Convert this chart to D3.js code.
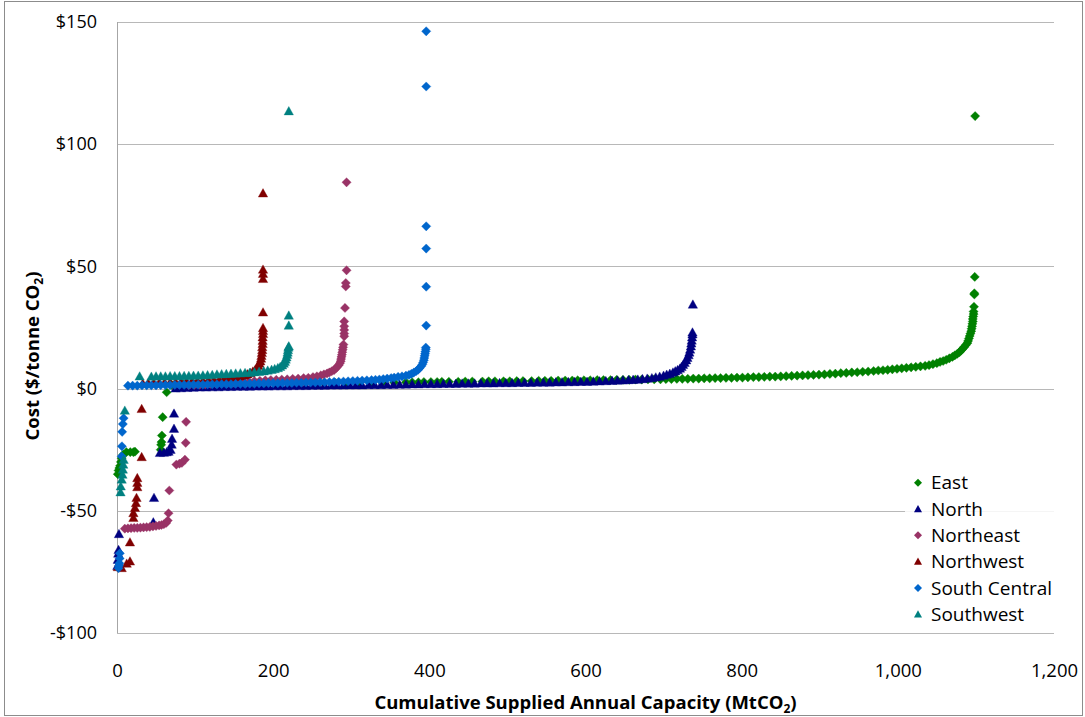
<!DOCTYPE html>
<html>
<head>
<meta charset="utf-8">
<script src="https://cdn.jsdelivr.net/npm/d3@7"></script>
<style>
  html, body { margin: 0; padding: 0; background: #fff; }
  svg { display: block; }
  text { font-family: "Open Sans", "DejaVu Sans", sans-serif; fill: #000; }
</style>
</head>
<body>
<svg id="chart" width="1085" height="717"></svg>
<script>
// Cumulative supplied annual capacity (MtCO2) vs. cost ($/tonne CO2), by region.
// Each point: [cumulative capacity, cost].
const east = [
  [1,-35],[2,-33.5],[3,-32.5],[4,-31.6],[5,-30],[6,-28.5],[8,-27],[12,-26],[17,-26],[21,-26],[23,-25.8],
  [56,-25],[56.5,-23],[57,-21.9],[57.5,-19.2],[58.5,-11.7],[63.6,-1.5],
  [70,1.5],[85,1.6],[100,1.7],[115,1.8],[130,1.8],[145,1.9],[160,1.9],[175,2.0],[190,2.0],[205,2.1],[220,2.1],
  [235,2.2],[250,2.2],[265,2.3],[280,2.3],[295,2.3],[310,2.4],[325,2.4],[340,2.5],[355,2.5],[370,2.6],
  [378,2.6],[386,2.6],[393,2.7],[402,2.7],[410,2.7],[416,2.8],[425,2.8],[437,2.8],[446,2.9],[455,2.9],[468,2.9],
  [476,3.0],[484,3.0],[495,3.0],[503,3.0],[512,3.1],[520,3.1],[531,3.1],[540,3.2],[548,3.2],[556,3.2],[565,3.3],
  [574,3.3],[583,3.3],[590,3.4],[598,3.4],[606,3.4],[615,3.5],[623,3.5],[632,3.5],[640,3.6],[648,3.6],[656,3.6],
  [664,3.7],[672,3.7],[680,3.8],[688,3.8],[696,3.8],[703,3.9],[710,3.9],[717,4.0],[724,4.0],[731,4.0],[738,4.1],
  [745,4.1],[752,4.2],[759,4.2],[766,4.3],[773,4.3],[780,4.4],[787,4.4],[794,4.5],[801,4.5],[808,4.6],[815,4.7],
  [822,4.7],[829,4.8],[836,4.9],[843,4.9],[850,5.0],[857,5.1],[864,5.2],[871,5.3],[878,5.4],[885,5.5],[892,5.6],
  [899,5.7],[906,5.8],[913,6.0],[920,6.1],[927,6.3],[934,6.4],[941,6.6],[948,6.7],[955,6.9],[962,7.0],[969,7.2],
  [975,7.4],[981,7.5],[987,7.7],[993,7.9],[999,8.1],[1005,8.3],[1011,8.5],[1017,8.7],[1023,8.9],[1029,9.1],
  [1035,9.3],[1040,9.6],[1045,10.0],[1050,10.4],[1054,10.9],[1058,11.3],[1062,11.8],[1066,12.4],[1070,13.0],
  [1073,13.6],[1076,14.2],[1079,14.9],[1081,15.6],[1083,16.3],[1085,17.0],[1087,17.8],[1089,18.6],[1090,19.5],
  [1091,20.5],[1092,21.5],[1093,22.5],[1094,23.5],[1094.5,24.5],[1095,25.5],[1095.5,26.5],[1096,27.5],[1096,28.5],
  [1096.5,29.5],[1097,30.5],[1097,31.5],[1097.5,33.5],[1098,38.5],[1098,39],[1098.5,45.7],[1099,111.5]
];
const north = [
  [0.5,-72.5],[1,-70],[1.5,-67.5],[2,-66],[2.5,-59.5],[46.5,-54.7],[47.4,-44.7],[55,-26.3],[60,-26.2],[63.6,-26],
  [66,-25.8],[68.6,-25],[70,-22.9],[70.5,-20.5],[73,-16.4],[73,-10.2],
  [75,0.1],[82,0.2],[90,0.3],[98,0.4],[106,0.5],[114,0.5],[122,0.6],[130,0.6],[138,0.7],[146,0.7],[154,0.8],
  [162,0.8],[170,0.8],[178,0.9],[186,0.9],[194,0.9],[202,1.0],[210,1.0],[218,1.0],[226,1.1],[234,1.1],[242,1.1],
  [250,1.2],[258,1.2],[266,1.2],[274,1.3],[282,1.3],[290,1.3],[298,1.4],[306,1.4],[314,1.4],[322,1.5],[330,1.5],
  [338,1.5],[346,1.6],[354,1.6],[362,1.7],[370,1.7],[378,1.8],[386,1.8],[394,1.9],[402,1.9],[410,1.9],[418,2.0],
  [426,2.0],[434,2.0],[442,2.1],[450,2.1],[458,2.1],[466,2.2],[474,2.2],[482,2.2],[490,2.3],[498,2.3],[506,2.3],
  [514,2.4],[522,2.4],[530,2.4],[538,2.5],[546,2.5],[554,2.5],[562,2.6],[570,2.6],[578,2.7],[586,2.7],[594,2.8],
  [602,2.8],[610,2.9],[618,3.0],[626,3.1],[634,3.2],[641,3.3],[648,3.4],[655,3.5],[661,3.6],[667,3.7],[673,3.9],
  [679,4.1],[685,4.3],[690,4.6],[695,4.9],[700,5.3],[704,5.7],[708,6.1],[712,6.6],[715,7.1],[718,7.6],[721,8.2],
  [723,8.9],[725,9.7],[727,10.6],[729,11.6],[730.5,12.6],[732,13.7],[733,14.8],[734,16.0],[735,17.3],[735.5,18.5],
  [736,19.7],[736.5,21],[737,22.2],[737,23],[737.5,34.4]
];
const northeast = [
  [10,-57.3],[14,-57.2],[18,-57.1],[22,-57],[26,-57],[30,-56.9],[34,-56.8],[38,-56.7],[42,-56.6],[46,-56.4],
  [50,-56.2],[54,-56],[57,-55.8],[60,-55.5],[63,-55],[65,-54],[66,-51],[67,-41.7],[76,-31.1],[80,-30.7],
  [83,-30.4],[87,-29.1],[88,-22.2],[88.5,-13.6],
  [92,1.4],[99,1.5],[106,1.6],[113,1.7],[120,1.9],[127,2.0],[134,2.1],[141,2.3],[148,2.4],[155,2.6],[162,2.8],
  [169,2.9],[176,3.1],[183,3.2],[190,3.4],[197,3.5],[204,3.6],[211,3.7],[218,3.8],[225,4.0],[232,4.1],[239,4.3],
  [245,4.4],[251,4.7],[256,5.0],[261,5.4],[265,5.8],[269,6.2],[272,6.6],[275,7.1],[278,7.6],[280,8.2],[282,8.9],
  [284,9.6],[285.5,10.4],[286.5,11.2],[287,12.1],[287.5,13.0],[288,13.9],[288.5,14.9],[289,15.9],[289.5,16.9],
  [290,18],[291,21.4],[291,22.5],[291,24],[291,25.5],[291,27.5],[292,33],[293,41.8],[293,43.2],[294,48.4],[294,84.4]
];
const northwest = [
  [1,-73],[6,-73.4],[12.4,-71.6],[16.6,-70.7],[16.6,-62.9],[21,-52.9],[21,-50.9],[23,-48.8],[24.3,-46.8],
  [25,-44.7],[26,-40.3],[26,-38.5],[26,-36.6],[31.6,-28],[31.6,-8.3],
  [33,2.1],[40,2.2],[47,2.3],[54,2.4],[61,2.5],[68,2.6],[75,2.7],[82,2.8],[89,2.9],[96,3.0],[103,3.1],[110,3.2],
  [117,3.4],[124,3.5],[131,3.7],[137,3.9],[143,4.1],[149,4.4],[154,4.7],[159,5.0],[163,5.4],[167,5.9],[171,6.4],
  [174,7.0],[177,7.7],[179,8.5],[181,9.3],[182.5,10.2],[183.5,11.2],[184.5,12.3],[185,13.4],[185.5,14.6],
  [186,15.8],[186,17.0],[186.5,18.3],[186.5,19.6],[186.5,21],[187,22.4],[187,23.6],[187,24.8],[187,31.2],
  [187,44.9],[187,47],[187,48.7],[187,79.9]
];
const southCentral = [
  [2,-73.5],[2.5,-72.5],[3,-71.5],[3.4,-69.5],[3.6,-67.4],[6,-27.7],[6.3,-23.6],[6.6,-17.7],[7.5,-14.5],[8.5,-12.1],
  [14,1.2],[20,1.2],[26,1.2],[32,1.3],[38,1.3],[44,1.3],[50,1.3],[56,1.4],[62,1.4],[68,1.4],[74,1.5],[80,1.5],
  [86,1.5],[92,1.5],[98,1.6],[104,1.6],[110,1.6],[116,1.7],[122,1.7],[128,1.7],[134,1.8],[140,1.8],[146,1.8],
  [152,1.9],[158,1.9],[164,1.9],[170,2.0],[176,2.0],[182,2.1],[188,2.1],[194,2.2],[200,2.2],[206,2.2],[212,2.3],
  [218,2.3],[224,2.3],[230,2.4],[236,2.4],[242,2.5],[248,2.5],[254,2.5],[260,2.6],[266,2.6],[272,2.7],[278,2.8],
  [284,2.8],[290,2.9],[296,3.0],[302,3.1],[308,3.2],[314,3.3],[320,3.4],[326,3.5],[331,3.6],[336,3.7],[341,3.9],
  [346,4.1],[351,4.3],[355,4.5],[360,4.8],[365,5.0],[370,5.3],[374,5.6],[377,6.0],[380,6.5],[383,7.1],[385.5,7.7],
  [387.5,8.4],[389.5,9.1],[391,9.9],[392,10.7],[393,11.6],[393.5,12.5],[394,13.4],[394.5,14.3],[395,15.2],
  [395.5,16.1],[395.5,16.8],[396,25.8],[396,41.7],[396,57.3],[396,66.4],[396,123.6],[396,146.2]
];
const southwest = [
  [4.5,-42.4],[4.8,-40],[6,-37.2],[7,-35.2],[7.5,-33.1],[8,-31.1],[8.5,-29.1],[10,-9],
  [29,5.0],[44,4.9],[50,5.0],[56,5.0],[62,5.0],[68,5.1],[74,5.1],[80,5.1],[86,5.2],[92,5.2],[98,5.3],[104,5.3],
  [110,5.4],[116,5.5],[122,5.6],[128,5.8],[134,5.9],[140,6.0],[146,6.1],[152,6.2],[158,6.3],[164,6.4],[170,6.5],
  [176,6.7],[182,6.9],[188,7.1],[193,7.4],[198,7.7],[202,8.0],[206,8.4],[209,8.9],[211.5,9.5],[213.5,10.2],
  [215,11.0],[216,11.9],[217,12.8],[218,13.8],[218.5,14.8],[219,15.8],[219.5,16.8],[220,17.3],[220,25.8],
  [220,29.9],[220,113.5]
];

const regionNames = ["East", "North", "Northeast", "Northwest", "South Central", "Southwest"];
const regionColors = ["#008000", "#000080", "#993366", "#800000", "#0066CC", "#008080"];
const regionShapes = ["diamond", "triangle", "diamond", "triangle", "diamond", "triangle"];
const regionPoints = [east, north, northeast, northwest, southCentral, southwest];

const xTicks = [0, 200, 400, 600, 800, 1000, 1200];
const yTicks = [-100, -50, 0, 50, 100, 150];

const series = regionNames.map((name, i) => ({
  name, color: regionColors[i], shape: regionShapes[i], points: regionPoints[i]
}));

const svg = d3.select("#chart");
const plotLeft = 117, plotRight = 1054, plotTop = 22, plotBottom = 633;

const x = d3.scaleLinear().domain([0, 1200]).range([plotLeft, plotRight]);
const y = d3.scaleLinear().domain([-100, 150]).range([plotBottom, plotTop]);

// chart frame
svg.append("rect")
  .attr("x", 4.5).attr("y", 1.5).attr("width", 1078).attr("height", 714)
  .attr("fill", "#fff").attr("stroke", "#8c8c8c").attr("stroke-width", 1);

// horizontal gridlines
const grid = svg.append("g")
  .attr("transform", `translate(${plotLeft},0)`)
  .call(d3.axisLeft(y).tickValues(yTicks).tickSize(-(plotRight - plotLeft)).tickFormat(""));
grid.select(".domain").remove();
grid.selectAll(".tick line").attr("stroke", "#b8b8b8").attr("stroke-width", 1)
  .attr("shape-rendering", "crispEdges");

// vertical axis line
svg.append("line")
  .attr("x1", plotLeft + 0.5).attr("x2", plotLeft + 0.5).attr("y1", plotTop).attr("y2", plotBottom)
  .attr("stroke", "#a6a6a6").attr("stroke-width", 1);

// y tick labels
const fmtCost = d => d < 0 ? "-$" + (-d) : "$" + d;
const yAxis = svg.append("g")
  .attr("transform", `translate(${plotLeft},0)`)
  .call(d3.axisLeft(y).tickValues(yTicks).tickSize(0).tickPadding(20).tickFormat(fmtCost));
yAxis.select(".domain").remove();
yAxis.selectAll("text").attr("font-size", 18).attr("font-family", "'Open Sans', sans-serif").attr("fill", "#000");

// x tick labels
const xAxis = svg.append("g")
  .attr("transform", `translate(0,${plotBottom})`)
  .call(d3.axisBottom(x).tickValues(xTicks).tickSize(0).tickPadding(31).tickFormat(d3.format(",")));
xAxis.select(".domain").remove();
xAxis.selectAll("text").attr("font-size", 18.5).attr("font-family", "'Open Sans', sans-serif").attr("fill", "#000");

// marker shapes
const shapePath = {
  diamond: "M0,-4.6L4.6,0L0,4.6L-4.6,0Z",
  triangle: "M0,-4.7L4.7,3.7L-4.7,3.7Z"
};

// points, drawn in series order
series.forEach(s => {
  svg.append("g")
    .selectAll("path")
    .data(s.points)
    .join("path")
    .attr("d", shapePath[s.shape])
    .attr("transform", d => `translate(${x(d[0])},${y(d[1])})`)
    .attr("fill", s.color)
    .attr("stroke", s.color)
    .attr("stroke-width", 0.6)
    .attr("stroke-opacity", 0.6);
});

// legend
const legend = svg.append("g");
legend.append("rect")
  .attr("x", 905).attr("y", 469).attr("width", 149).attr("height", 158)
  .attr("fill", "#fff").attr("fill-opacity", 0.85);
series.forEach((s, i) => {
  const ly = 482.7 + i * 26.3;
  legend.append("path")
    .attr("d", s.shape === "diamond" ? "M0,-4L4,0L0,4L-4,0Z" : "M0,-4L4,3.2L-4,3.2Z")
    .attr("transform", `translate(918,${ly})`)
    .attr("fill", s.color);
  legend.append("text")
    .attr("x", 931).attr("y", ly).attr("dy", "0.35em")
    .attr("font-size", 19)
    .text(s.name);
});

// axis titles
const xTitle = svg.append("text")
  .attr("x", (plotLeft + plotRight) / 2).attr("y", 709)
  .attr("text-anchor", "middle")
  .attr("font-size", 18.5).attr("font-weight", "bold");
xTitle.append("tspan").text("Cumulative Supplied Annual Capacity (MtCO");
xTitle.append("tspan").attr("font-size", 12).attr("dy", 4).text("2");
xTitle.append("tspan").attr("dy", -4).text(")");

const yTitle = svg.append("text")
  .attr("transform", `translate(39,356) rotate(-90)`)
  .attr("text-anchor", "middle")
  .attr("font-size", 18.5).attr("font-weight", "bold");
yTitle.append("tspan").text("Cost ($/tonne CO");
yTitle.append("tspan").attr("font-size", 12).attr("dy", 4).text("2");
yTitle.append("tspan").attr("dy", -4).text(")");
</script>
</body>
</html>
